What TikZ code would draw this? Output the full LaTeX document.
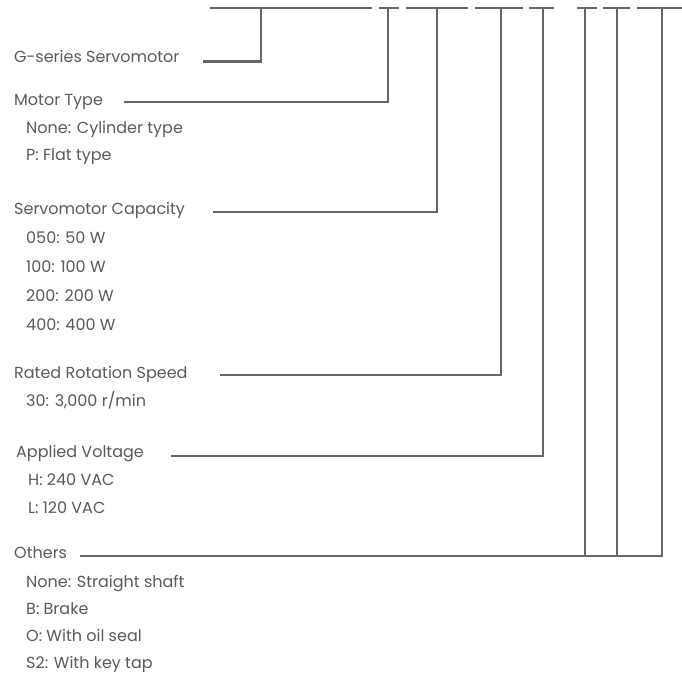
\documentclass[tikz,border=0pt]{standalone}
\usepackage{fontspec}
\setmainfont{Poppins}
\definecolor{txt}{HTML}{5A5A5A}
\definecolor{ln}{HTML}{666666}
\begin{document}
\begin{tikzpicture}[x=1pt,y=-1pt,
  lbl/.style={anchor=base west, inner sep=0pt, text=txt, font=\fontsize{16}{16}\selectfont},
  conn/.style={draw=ln, line width=2.7pt}]
\useasboundingbox (0,0) rectangle (682,681);
% top bars
\draw[conn] (210,8) -- (372,8);
\draw[conn] (379,8) -- (399,8);
\draw[conn] (406,8) -- (468,8);
\draw[conn] (475,8) -- (523,8);
\draw[conn] (529,8) -- (554,8);
\draw[conn] (577,8) -- (597,8);
\draw[conn] (603,8) -- (630,8);
\draw[conn] (637,8) -- (682,8);
% top coordinates
\coordinate (t1) at (261,8);
\coordinate (t2) at (388,8);
\coordinate (t3) at (437,8);
\coordinate (t4) at (501,8);
\coordinate (t5) at (543,8);
\coordinate (t6) at (585,8);
\coordinate (t7) at (617,8);
\coordinate (t8) at (662,8);
% labels
\node[lbl] (g)  at (14,62)  {G-series Servomotor};
\node[lbl] (mt) at (14,105) {Motor Type};
\node[lbl] (mt1) at (26,133) {None: Cylinder type};
\node[lbl] (mt2) at (26,160) {P: Flat type};
\node[lbl] (sc) at (14,214) {Servomotor Capacity};
\node[lbl] (sc1) at (26,243) {050: 50 W};
\node[lbl] (sc2) at (26,272) {100: 100 W};
\node[lbl] (sc3) at (26,301) {200: 200 W};
\node[lbl] (sc4) at (26,330) {400: 400 W};
\node[lbl] (rs) at (14,378) {Rated Rotation Speed};
\node[lbl] (rs1) at (26,406) {30: 3,000 r/min};
\node[lbl] (av) at (16,457) {Applied Voltage};
\node[lbl] (av1) at (28,485) {H: 240 VAC};
\node[lbl] (av2) at (28,513) {L: 120 VAC};
\node[lbl] (ot) at (14,558) {Others};
\node[lbl] (ot1) at (26,587) {None: Straight shaft};
\node[lbl] (ot2) at (26,614) {B: Brake};
\node[lbl] (ot3) at (26,641) {O: With oil seal};
\node[lbl] (ot4) at (26,668) {S2: With key tap};
% line start coordinates
\coordinate (c1) at (203,61.7);
\coordinate (c2) at (124,102);
\coordinate (c3) at (213,212);
\coordinate (c4) at (220,375);
\coordinate (c5) at (171,456);
\coordinate (c6) at (80,556);
% connectors
\draw[conn] (c1) -| (t1);
\draw[conn] (c2) -| (t2);
\draw[conn] (c3) -| (t3);
\draw[conn] (c4) -| (t4);
\draw[conn] (c5) -| (t5);
\draw[conn] (c6) -| (t8);
\draw[conn] (t6) -- (t6 |- c6);
\draw[conn] (t7) -- (t7 |- c6);
\end{tikzpicture}
\end{document}
